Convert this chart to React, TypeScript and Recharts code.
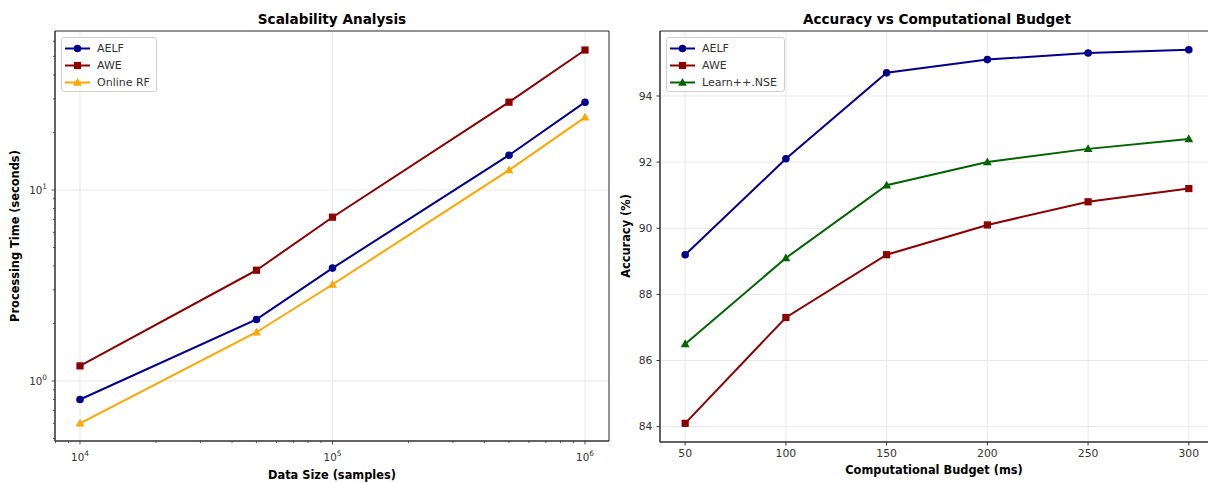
import { LineChart, Line, XAxis, YAxis, CartesianGrid, ReferenceArea } from 'recharts';

// left panel: processing time vs data size (log-log)
const dataSizes = [1e4, 5e4, 1e5, 5e5, 1e6];
const aelfTime = [0.8, 2.1, 3.9, 15.2, 28.8];
const aweTime = [1.2, 3.8, 7.2, 28.8, 54];
const onlineRfTime = [0.6, 1.8, 3.2, 12.7, 24];

const sizeTicks = [1e4, 1e5, 1e6];
const sizeTickExp = ['4', '5', '6'];
const sizeMinorTicks = [8e3, 9e3, 2e4, 3e4, 4e4, 5e4, 6e4, 7e4, 8e4, 9e4, 2e5, 3e5, 4e5, 5e5, 6e5, 7e5, 8e5, 9e5];
const timeTicks = [1, 10];
const timeTickExp = ['0', '1'];
const timeMinorTicks = [0.5, 0.6, 0.7, 0.8, 0.9, 2, 3, 4, 5, 6, 7, 8, 9, 20, 30, 40, 50, 60];

// right panel: accuracy vs budget
const budgets = [50, 100, 150, 200, 250, 300];
const aelfAcc = [89.2, 92.1, 94.7, 95.1, 95.3, 95.4];
const aweAcc = [84.1, 87.3, 89.2, 90.1, 90.8, 91.2];
const learnNseAcc = [86.5, 89.1, 91.3, 92.0, 92.4, 92.7];
const budgetTicks = [50, 100, 150, 200, 250, 300];
const accTicks = [84, 86, 88, 90, 92, 94];

const NAVY = '#00008b';
const DARKRED = '#8b0000';
const ORANGE = '#ffa500';
const GREEN = '#006400';
const INK = '#333';
const FONT = '"DejaVu Sans", sans-serif';

const sizeDomain = [10 ** 3.901, 10 ** 6.095];
const timeDomain = [10 ** -0.314, 10 ** 1.832];
const budgetDomain = [37.5, 312.5];
const accDomain = [83.535, 95.965];

const leftSeries = [
  { key: 'aelf', name: 'AELF', color: NAVY, shape: 'circle' },
  { key: 'awe', name: 'AWE', color: DARKRED, shape: 'square' },
  { key: 'orf', name: 'Online RF', color: ORANGE, shape: 'triangle' },
];
const rightSeries = [
  { key: 'aelf', name: 'AELF', color: NAVY, shape: 'circle' },
  { key: 'awe', name: 'AWE', color: DARKRED, shape: 'square' },
  { key: 'nse', name: 'Learn++.NSE', color: GREEN, shape: 'triangle' },
];

const leftData = dataSizes.map((size, i) => ({
  size,
  aelf: aelfTime[i],
  awe: aweTime[i],
  orf: onlineRfTime[i],
}));
const rightData = budgets.map((budget, i) => ({
  budget,
  aelf: aelfAcc[i],
  awe: aweAcc[i],
  nse: learnNseAcc[i],
}));

function Marker({ shape, color, cx, cy }: any) {
  if (shape === 'circle') return <circle cx={cx} cy={cy} r={3.8} fill={color} />;
  if (shape === 'square') return <rect x={cx - 3.6} y={cy - 3.6} width={7.2} height={7.2} fill={color} />;
  return <polygon points={`${cx},${cy - 4.6} ${cx - 4.4},${cy + 3.2} ${cx + 4.4},${cy + 3.2}`} fill={color} />;
}

const makeDot = (shape: string, color: string) => (props: any) => {
  const { cx, cy, index } = props;
  if (cx == null || cy == null) return <g key={`d-${index}`} />;
  return (
    <g key={`d-${index}`}>
      <Marker shape={shape} color={color} cx={cx} cy={cy} />
    </g>
  );
};

// log x ticks: majors get 10^n labels, minors only a short tick line
const LogXTick = ({ x, y, payload }: any) => {
  const i = sizeTicks.indexOf(payload.value);
  if (i < 0) return <line x1={x} y1={y} x2={x} y2={y + 2} stroke={INK} strokeWidth={0.8} />;
  return (
    <g>
      <line x1={x} y1={y} x2={x} y2={y + 3.5} stroke={INK} strokeWidth={0.8} />
      <text x={x} y={y + 20} textAnchor="middle" fill={INK} fontSize={10.3} fontFamily={FONT}>
        10<tspan dy={-5} fontSize={7.4}>{sizeTickExp[i]}</tspan>
      </text>
    </g>
  );
};

const LogYTick = ({ x, y, payload }: any) => {
  const i = timeTicks.indexOf(payload.value);
  if (i < 0) return <line x1={x - 2} y1={y} x2={x} y2={y} stroke={INK} strokeWidth={0.8} />;
  return (
    <g>
      <line x1={x - 3.5} y1={y} x2={x} y2={y} stroke={INK} strokeWidth={0.8} />
      <text x={x - 8} y={y + 4} textAnchor="end" fill={INK} fontSize={10.3} fontFamily={FONT}>
        10<tspan dy={-5} fontSize={7.4}>{timeTickExp[i]}</tspan>
      </text>
    </g>
  );
};

function LegendBox({ series, left, top, width }: any) {
  return (
    <div
      style={{
        position: 'absolute',
        left,
        top,
        width,
        height: 55,
        border: '1px solid #d0d0d0',
        borderRadius: 3,
        background: 'rgba(255,255,255,0.85)',
        boxSizing: 'border-box',
        fontFamily: FONT,
        fontSize: 11,
        color: INK,
      }}
    >
      {series.map((s: any, i: number) => (
        <div key={s.key} style={{ position: 'absolute', left: 2, top: 1.5 + i * 17, height: 17, display: 'flex', alignItems: 'center' }}>
          <svg width={27} height={17}>
            <line x1={1} y1={8.5} x2={26} y2={8.5} stroke={s.color} strokeWidth={2} />
            <Marker shape={s.shape} color={s.color} cx={13.5} cy={8.5} />
          </svg>
          <span style={{ marginLeft: 6, whiteSpace: 'nowrap' }}>{s.name}</span>
        </div>
      ))}
    </div>
  );
}

function Title({ text, cx }: any) {
  return (
    <div style={{ position: 'absolute', left: cx - 200, top: 10, width: 400, textAlign: 'center', fontFamily: FONT, fontWeight: 'bold', fontSize: 13.6, lineHeight: '18px', color: '#000' }}>
      {text}
    </div>
  );
}

function XLabel({ text, cx, cy }: any) {
  return (
    <div style={{ position: 'absolute', left: cx - 200, top: cy - 8, width: 400, textAlign: 'center', fontFamily: FONT, fontWeight: 'bold', fontSize: 11.4, lineHeight: '16px', color: '#000' }}>
      {text}
    </div>
  );
}

function YLabel({ text, cx, cy }: any) {
  return (
    <div style={{ position: 'absolute', left: cx - 200, top: cy - 8, width: 400, textAlign: 'center', transform: 'rotate(-90deg)', fontFamily: FONT, fontWeight: 'bold', fontSize: 11.4, lineHeight: '16px', color: '#000' }}>
      {text}
    </div>
  );
}

const tickStyle = { fill: INK, fontSize: 10.8, fontFamily: FONT };

export default function App() {
  return (
    <div style={{ position: 'absolute', left: 0, top: 0, width: 1208, height: 483, overflow: 'hidden', background: '#fff' }}>
      <LineChart
        width={612}
        height={483}
        data={leftData}
        margin={{ top: 31, right: 3, bottom: 0, left: 0 }}
        style={{ position: 'absolute', left: 0, top: 0 }}
      >
        <XAxis xAxisId="grid" dataKey="size" type="number" scale="log" domain={sizeDomain} allowDataOverflow ticks={sizeTicks} hide />
        <YAxis yAxisId="grid" type="number" scale="log" domain={timeDomain} allowDataOverflow ticks={timeTicks} hide />
        <CartesianGrid xAxisId="grid" yAxisId="grid" stroke="#e8e8e8" strokeWidth={1} />
        <XAxis
          dataKey="size"
          type="number"
          scale="log"
          domain={sizeDomain}
          allowDataOverflow
          ticks={[...sizeMinorTicks, ...sizeTicks]}
          interval={0}
          tick={LogXTick}
          tickLine={false}
          tickSize={0}
          tickMargin={0}
          height={42}
          axisLine={{ stroke: INK }}
        />
        <YAxis
          type="number"
          scale="log"
          domain={timeDomain}
          allowDataOverflow
          ticks={[...timeMinorTicks, ...timeTicks]}
          interval={0}
          tick={LogYTick}
          tickLine={false}
          tickSize={0}
          tickMargin={0}
          width={55}
          axisLine={{ stroke: INK }}
        />
        <ReferenceArea x1={sizeDomain[0]} x2={sizeDomain[1]} y1={timeDomain[0]} y2={timeDomain[1]} fill="none" stroke={INK} strokeWidth={1} />
        {leftSeries.map((s) => (
          <Line
            key={s.key}
            type="linear"
            dataKey={s.key}
            name={s.name}
            stroke={s.color}
            strokeWidth={2}
            dot={makeDot(s.shape, s.color)}
            activeDot={false}
            isAnimationActive={false}
          />
        ))}
      </LineChart>

      <LineChart
        width={612}
        height={483}
        data={rightData}
        margin={{ top: 31, right: 10, bottom: 0, left: 0 }}
        style={{ position: 'absolute', left: 612, top: 0 }}
      >
        <CartesianGrid stroke="#e8e8e8" strokeWidth={1} />
        <XAxis
          dataKey="budget"
          type="number"
          domain={budgetDomain}
          allowDataOverflow
          ticks={budgetTicks}
          tick={tickStyle}
          tickSize={3.5}
          tickMargin={4}
          height={41}
          axisLine={{ stroke: INK }}
          tickLine={{ stroke: INK }}
        />
        <YAxis
          type="number"
          domain={accDomain}
          allowDataOverflow
          ticks={accTicks}
          tick={tickStyle}
          tickSize={3.5}
          tickMargin={4}
          width={48}
          axisLine={{ stroke: INK }}
          tickLine={{ stroke: INK }}
        />
        <ReferenceArea x1={budgetDomain[0]} x2={budgetDomain[1]} y1={accDomain[0]} y2={accDomain[1]} fill="none" stroke={INK} strokeWidth={1} />
        {rightSeries.map((s) => (
          <Line
            key={s.key}
            type="linear"
            dataKey={s.key}
            name={s.name}
            stroke={s.color}
            strokeWidth={2}
            dot={makeDot(s.shape, s.color)}
            activeDot={false}
            isAnimationActive={false}
          />
        ))}
      </LineChart>

      <Title text="Scalability Analysis" cx={332} />
      <Title text="Accuracy vs Computational Budget" cx={937} />
      <XLabel text="Data Size (samples)" cx={332} cy={475} />
      <XLabel text="Computational Budget (ms)" cx={934} cy={470} />
      <YLabel text="Processing Time (seconds)" cx={15} cy={236} />
      <YLabel text="Accuracy (%)" cx={626} cy={236} />
      <LegendBox series={leftSeries} left={61} top={37} width={96} />
      <LegendBox series={rightSeries} left={666} top={37} width={119} />
    </div>
  );
}
